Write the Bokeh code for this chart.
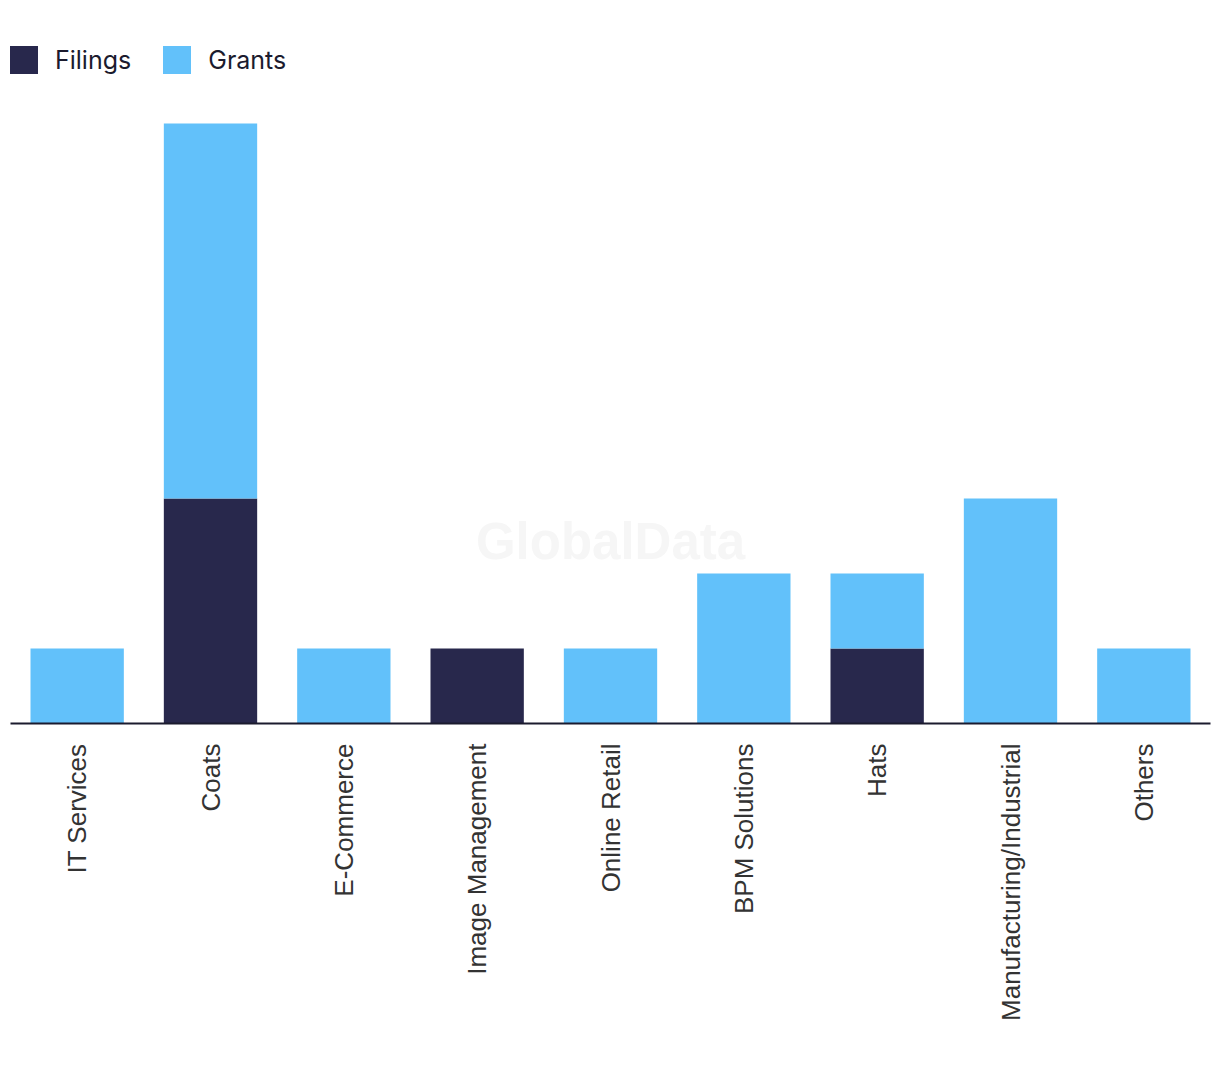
import math
from bokeh.plotting import figure
from bokeh.models import ColumnDataSource, Legend, LegendItem, Label, Range1d
from bokeh.embed import file_html
from bokeh.resources import INLINE

categories = ["IT Services", "Coats", "E-Commerce", "Image Management", "Online Retail",
              "BPM Solutions", "Hats", "Manufacturing/Industrial", "Others"]
filings = [0, 3, 0, 1, 0, 0, 1, 0, 0]
grants = [1, 5, 1, 0, 1, 2, 1, 3, 1]

FIL_COLOR = "#28284c"
GRA_COLOR = "#62c1fa"

src = ColumnDataSource(dict(cat=categories, Filings=filings, Grants=grants))

p = figure(x_range=categories, y_range=Range1d(0, 9.08),
           frame_width=1200, frame_height=681,
           output_backend="svg", toolbar_location=None, y_axis_location=None,
           min_border_left=10, min_border_right=2, min_border_top=42, min_border_bottom=10)
p.outline_line_color = None
p.xgrid.grid_line_color = None
p.ygrid.grid_line_color = None
p.x_range.range_padding = 0

wm = Label(x=4.5, y=2.43, text="GlobalData", text_align="center", text_baseline="middle",
           text_font="Liberation Sans", text_font_style="bold", text_font_size="51px",
           text_color="#f6f6f6")
p.add_layout(wm)

rs = p.vbar_stack(["Filings", "Grants"], x="cat", width=0.7, source=src,
                  color=[FIL_COLOR, GRA_COLOR], line_color=None)

ax = p.xaxis[0]
ax.axis_line_color = "#1b1b2e"
ax.axis_line_width = 2
ax.major_tick_line_color = None
ax.minor_tick_line_color = None
ax.major_tick_out = 0
ax.major_tick_in = 0
ax.major_label_orientation = math.pi / 2
ax.major_label_standoff = 20
ax.major_label_text_font = "Liberation Sans"
ax.major_label_text_font_size = "26px"
ax.major_label_text_color = "#333333"

legend = Legend(items=[LegendItem(label="Filings", renderers=[rs[0]]),
                       LegendItem(label="Grants", renderers=[rs[1]])],
                orientation="horizontal", location=(-4, 646),
                margin=0, padding=0, spacing=28, label_standoff=14,
                glyph_width=35, glyph_height=35,
                label_text_font="Inter", label_text_font_size="25px",
                label_text_color="#1b1b2e", border_line_color=None,
                background_fill_alpha=0)
p.add_layout(legend)

open("out.html", "w").write(file_html(p, INLINE))
